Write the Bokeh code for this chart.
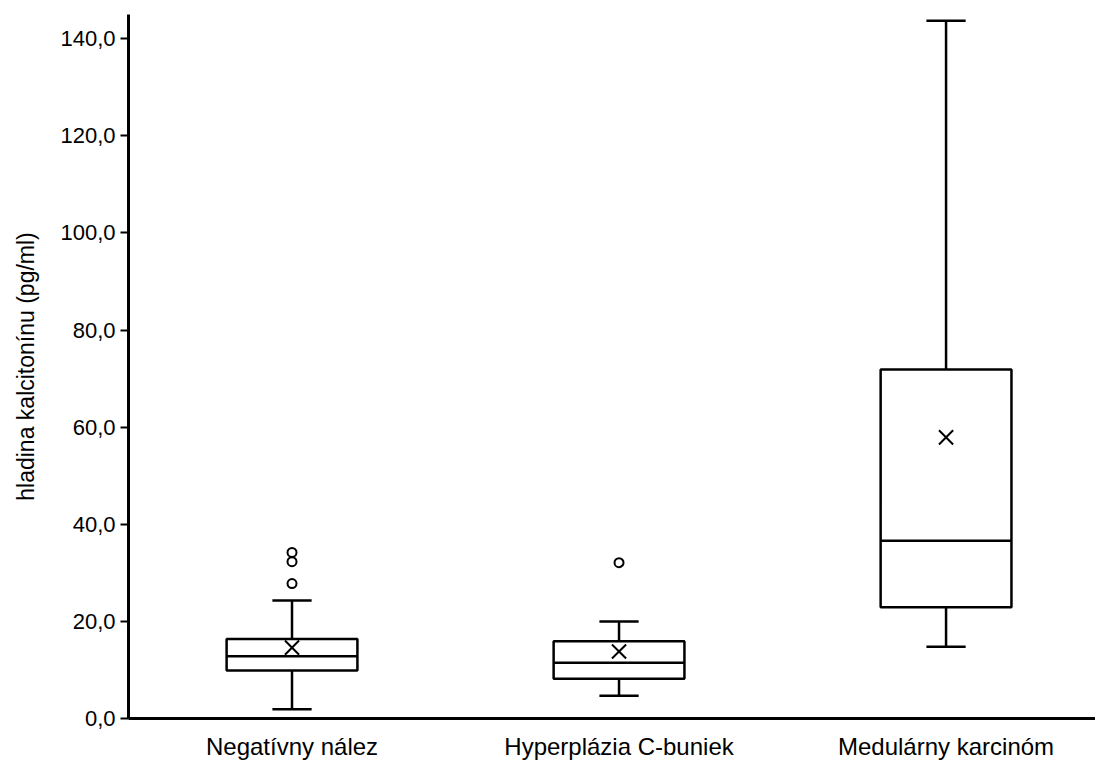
import numpy as np
from bokeh.plotting import figure
from bokeh.models import Range1d, FixedTicker
from bokeh.embed import file_html
from bokeh.resources import INLINE

categories = ["Negatívny nález", "Hyperplázia C-buniek", "Medulárny karcinóm"]
whisker_low = [1.9, 4.7, 14.8]
q1 = [9.9, 8.2, 22.9]
median = [12.8, 11.5, 36.6]
q3 = [16.4, 15.9, 71.9]
whisker_high = [24.3, 20.0, 143.7]
mean = [14.6, 13.8, 57.9]
outlier_group = [0, 0, 0, 1]
outlier_value = [27.8, 32.3, 34.2, 32.1]
y_ticks = [0, 20, 40, 60, 80, 100, 120, 140]
y_tick_labels = ["0,0", "20,0", "40,0", "60,0", "80,0", "100,0", "120,0", "140,0"]
y_label = "hladina kalcitonínu (pg/ml)"

pos = np.arange(len(categories)) + 0.5
box_w = 0.4
cap_w = 0.12
lc = "black"
lw = 2.5

p = figure(width=1095, height=762, x_range=Range1d(0, 2.957), y_range=Range1d(0, 145),
           output_backend="svg", toolbar_location=None,
           min_border_left=128, min_border_right=0, min_border_top=14, min_border_bottom=44)
p.grid.visible = False
p.outline_line_color = None
p.background_fill_color = "white"
p.border_fill_color = "white"

# whiskers
p.segment(x0=pos, y0=whisker_low, x1=pos, y1=q1, line_color=lc, line_width=lw)
p.segment(x0=pos, y0=q3, x1=pos, y1=whisker_high, line_color=lc, line_width=lw)
# caps
p.segment(x0=pos - cap_w / 2, y0=whisker_low, x1=pos + cap_w / 2, y1=whisker_low, line_color=lc, line_width=lw)
p.segment(x0=pos - cap_w / 2, y0=whisker_high, x1=pos + cap_w / 2, y1=whisker_high, line_color=lc, line_width=lw)
# boxes
p.quad(left=pos - box_w / 2, right=pos + box_w / 2, bottom=q1, top=q3,
       fill_color="white", line_color=lc, line_width=lw)
# medians
p.segment(x0=pos - box_w / 2, y0=median, x1=pos + box_w / 2, y1=median, line_color=lc, line_width=lw)
# means
p.scatter(x=pos, y=mean, marker="x", size=20, line_color=lc, line_width=2)
# outliers
p.scatter(x=pos[outlier_group], y=outlier_value, marker="circle", size=9,
          fill_color="white", line_color=lc, line_width=2)

xa = p.xaxis[0]
xa.ticker = FixedTicker(ticks=[float(v) for v in pos])
xa.major_label_overrides = {float(v): c for v, c in zip(pos, categories)}
xa.major_tick_out = 0
xa.major_tick_in = 0
xa.minor_tick_out = 0
xa.minor_tick_in = 0
xa.axis_line_width = 3
xa.axis_line_color = lc
xa.major_label_text_font = "Liberation Sans"
xa.major_label_text_font_size = "24px"
xa.major_label_text_color = lc
xa.major_label_standoff = 14

ya = p.yaxis[0]
ya.ticker = FixedTicker(ticks=y_ticks)
ya.major_label_overrides = {t: s for t, s in zip(y_ticks, y_tick_labels)}
ya.major_tick_out = 8
ya.major_tick_in = 0
ya.minor_tick_out = 0
ya.minor_tick_in = 0
ya.major_tick_line_width = 2
ya.major_tick_line_color = lc
ya.axis_line_width = 3
ya.axis_line_color = lc
ya.major_label_text_font = "Liberation Sans"
ya.major_label_text_font_size = "22px"
ya.major_label_text_color = lc
ya.major_label_standoff = 5
ya.axis_label = y_label
ya.axis_label_text_font = "Liberation Sans"
ya.axis_label_text_font_size = "23px"
ya.axis_label_text_font_style = "normal"
ya.axis_label_text_color = lc
ya.axis_label_standoff = 18

open("out.html", "w").write(file_html(p, INLINE))
